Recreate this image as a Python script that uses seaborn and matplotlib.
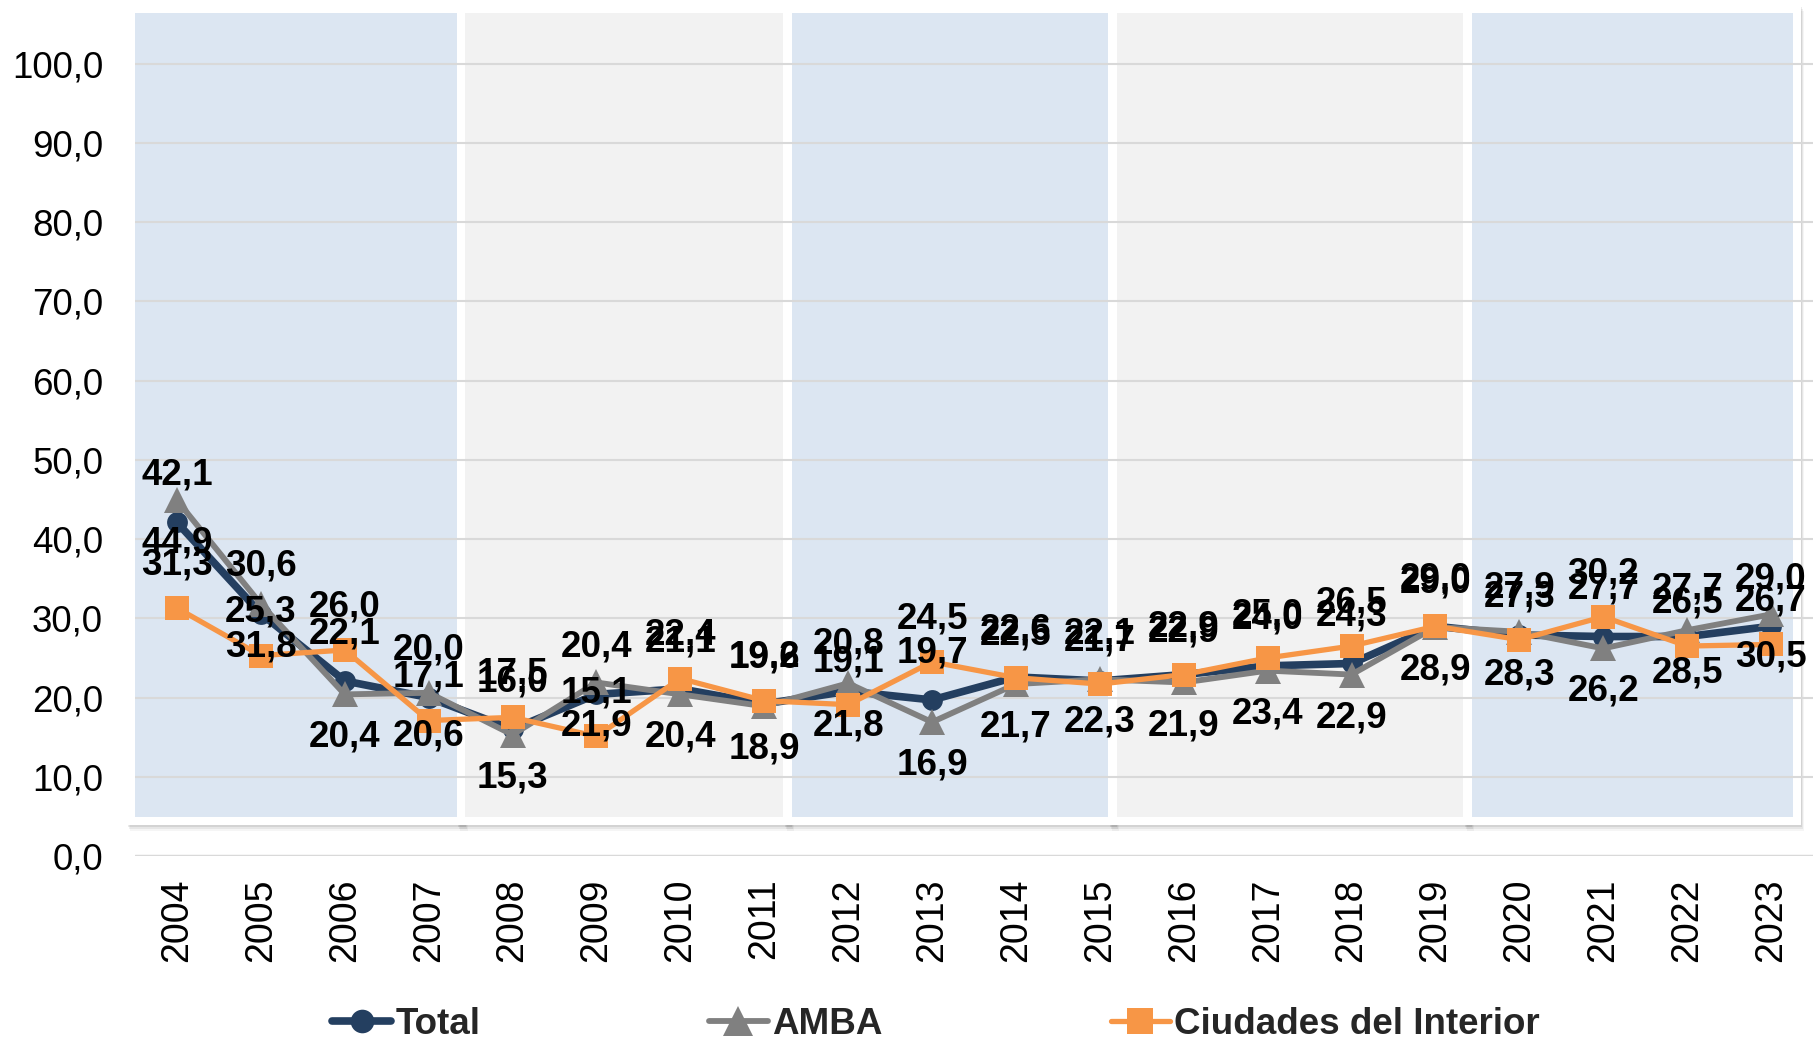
import numpy as np
import pandas as pd
import matplotlib
matplotlib.use("Agg")
import matplotlib.pyplot as plt
from matplotlib.patches import Rectangle
from matplotlib.lines import Line2D
import seaborn as sns

years = ["2004", "2005", "2006", "2007", "2008", "2009", "2010", "2011", "2012", "2013",
         "2014", "2015", "2016", "2017", "2018", "2019", "2020", "2021", "2022", "2023"]
total = [42.1, 30.6, 22.1, 20.0, 16.0, 20.4, 21.1, 19.2, 20.8, 19.7,
         22.6, 22.1, 22.9, 24.0, 24.3, 29.0, 27.9, 27.7, 27.7, 29.0]
amba = [44.9, 31.8, 20.4, 20.6, 15.3, 21.9, 20.4, 18.9, 21.8, 16.9,
        21.7, 22.3, 21.9, 23.4, 22.9, 28.9, 28.3, 26.2, 28.5, 30.5]
interior = [31.3, 25.3, 26.0, 17.1, 17.5, 15.1, 22.4, 19.6, 19.1, 24.5,
            22.5, 21.7, 22.9, 25.0, 26.5, 29.0, 27.3, 30.2, 26.5, 26.7]
series_names = ["Total", "AMBA", "Ciudades del Interior"]

# period bands (x in category positions, colour)
bands = [(-0.5, 3.34, "#DCE6F2"), (3.43, 7.22, "#F2F2F2"), (7.33, 11.10, "#DCE6F2"),
         (11.20, 15.33, "#F2F2F2"), (15.43, 19.26, "#DCE6F2")]

sns.set_theme(style="white")
plt.rcParams["font.family"] = ["Liberation Sans", "DejaVu Sans"]

fig = plt.figure(figsize=(18.14, 10.39), dpi=100)
ax = fig.add_axes([135 / 1814, (1039 - 856) / 1039, 1678 / 1814, 852.5 / 1039])
ax.set_xlim(-0.5, 19.5)
ax.set_ylim(0, 107.6)

px_x = 1 / 83.9
px_y = 1 / 7.924
band_bottom, band_top = 4.9, 106.4
border = 8
for x0, x1, col in bands:
    # soft drop shadow
    for k, a in [(6, 0.04), (4, 0.06), (2, 0.08)]:
        ax.add_patch(Rectangle((x0 - border * px_x + k * px_x * 0.5, band_bottom - (border + k) * px_y),
                               (x1 - x0) + 2 * border * px_x, (band_top - band_bottom) + 2 * border * px_y,
                               facecolor="black", edgecolor="none", alpha=a, zorder=0.1, clip_on=False))
    ax.add_patch(Rectangle((x0 - border * px_x, band_bottom - border * px_y),
                           (x1 - x0) + 2 * border * px_x, (band_top - band_bottom) + 2 * border * px_y,
                           facecolor="white", edgecolor="none", zorder=0.2, clip_on=False))
    ax.add_patch(Rectangle((x0, band_bottom), x1 - x0, band_top - band_bottom,
                           facecolor=col, edgecolor="none", zorder=0.3, clip_on=False))

df = pd.DataFrame({"pos": np.arange(len(years)), "year": years,
                   "Total": total, "AMBA": amba, "Ciudades del Interior": interior})

styles = {
    "Total": dict(color="#243F60", marker="o", lw=5.5, ms=15, z=3, off=34),
    "AMBA": dict(color="#808080", marker="^", lw=4.2, ms=19, z=4, off=-31),
    "Ciudades del Interior": dict(color="#F79646", marker="s", lw=3.8, ms=17, z=5, off=31),
}

handles = []
for name in series_names:
    st = styles[name]
    sns.lineplot(data=df, x="pos", y=name, ax=ax, color=st["color"], marker=st["marker"],
                 linewidth=st["lw"], markersize=st["ms"], markeredgewidth=0,
                 zorder=st["z"], legend=False)
    handles.append(Line2D([], [], color=st["color"], marker=st["marker"], lw=st["lw"],
                          markersize=st["ms"] + 2, markeredgewidth=0))

for name in series_names:
    st = styles[name]
    for i, v in enumerate(df[name]):
        ax.annotate(f"{v:.1f}".replace(".", ","), (i, v), xytext=(0, st["off"]),
                    textcoords="offset points", ha="center", va="center",
                    fontsize=26.5, fontweight="bold", color="black", zorder=10)

ax.set_yticks(np.arange(0, 101, 10))
ax.set_yticklabels([f"{t:.1f}".replace(".", ",") for t in np.arange(0, 101, 10)], fontsize=26.5)
ax.set_xticks(np.arange(len(years)))
ax.set_xticklabels(years, rotation=90, fontsize=27)
ax.tick_params(axis="y", length=0, pad=23, colors="black")
ax.tick_params(axis="x", length=0, pad=16, colors="black")
ax.set_xlabel("")
ax.set_ylabel("")

ax.set_axisbelow(True)
ax.yaxis.grid(True, color="#D9D9D9", linewidth=1.5, zorder=0.5)
ax.xaxis.grid(False)
for s in ax.spines.values():
    s.set_visible(False)
ax.axhline(0, color="#D9D9D9", linewidth=2.4, zorder=0.6)
ax.set_facecolor("none")

fig.legend(handles, series_names, loc="center", bbox_to_anchor=(0.516, 1 - 1024 / 1039),
           ncol=3, frameon=False, prop={"size": 26.5, "weight": "bold"},
           handlelength=1.6, handletextpad=0.12, columnspacing=6.2)

fig.savefig("out.png", dpi=100, facecolor="white")
